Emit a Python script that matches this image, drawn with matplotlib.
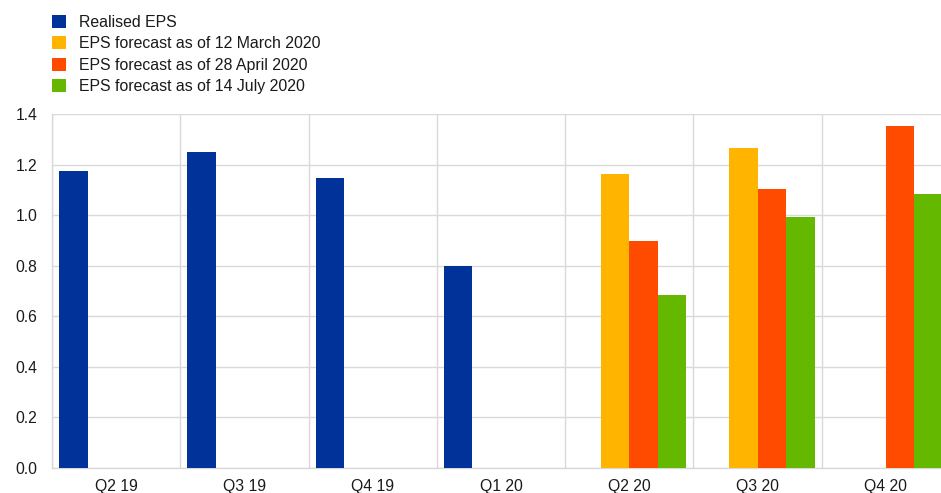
import matplotlib
matplotlib.use("Agg")
import matplotlib.pyplot as plt
import numpy as np

plt.rcParams['font.family'] = ['Liberation Sans', 'DejaVu Sans']

# ---- data ----
quarters = ['Q2 19', 'Q3 19', 'Q4 19', 'Q1 20', 'Q2 20', 'Q3 20', 'Q4 20']
realised = [1.174, 1.248, 1.147, 0.799, np.nan, np.nan, np.nan]
fc_12mar = [np.nan, np.nan, np.nan, np.nan, 1.162, 1.264, np.nan]
fc_28apr = [np.nan, np.nan, np.nan, np.nan, 0.899, 1.102, 1.351]
fc_14jul = [np.nan, np.nan, np.nan, np.nan, 0.684, 0.991, 1.082]

labels = ['Realised EPS', 'EPS forecast as of 12 March 2020',
          'EPS forecast as of 28 April 2020', 'EPS forecast as of 14 July 2020']
colors = ['#003299', '#FFB400', '#FF4B00', '#65B800']

# ---- figure ----
W, H = 941, 493
fig = plt.figure(figsize=(W / 100, H / 100), dpi=100)
ax = fig.add_axes([52 / W, (H - 468) / H, 898 / W, 354 / H])

x = np.arange(len(quarters))
width = 2 / 9
series = [realised, fc_12mar, fc_28apr, fc_14jul]
for i, (vals, lab, col) in enumerate(zip(series, labels, colors)):
    ax.bar(x + (i - 1.5) * width, vals, width, color=col, label=lab,
           edgecolor='none', zorder=3)

ax.set_xlim(-0.5, len(quarters) - 0.5)
ax.set_ylim(0, 1.4)
ax.set_yticks(np.arange(0, 1.41, 0.2))
ax.set_yticklabels(['%.1f' % v for v in np.arange(0, 1.41, 0.2)])
ax.set_xticks(x)
ax.set_xticklabels(quarters)
ax.set_xticks(np.arange(-0.5, len(quarters), 1), minor=True)

grid_col = '#D9D9D9'
ax.grid(axis='y', which='major', color=grid_col, linewidth=1, zorder=0)
ax.grid(axis='x', which='minor', color=grid_col, linewidth=1, zorder=0)
ax.tick_params(which='both', length=0, labelsize=11.3, colors='#1a1a1a')
ax.tick_params(axis='y', pad=10.5)
ax.tick_params(axis='x', pad=8)
for s in ['top', 'right']:
    ax.spines[s].set_visible(False)
for s in ['left', 'bottom']:
    ax.spines[s].set_color(grid_col)
    ax.spines[s].set_linewidth(1)

handles, labs = ax.get_legend_handles_labels()
fig.legend(handles, labs, loc='upper left', bbox_to_anchor=(41 / W, 1 - 4 / H),
           frameon=False, fontsize=11.4, handlelength=0.88, handleheight=0.88,
           handletextpad=0.8, labelspacing=0.4, borderpad=0.2,
           labelcolor='#1a1a1a')

fig.savefig('out.png', dpi=100)
